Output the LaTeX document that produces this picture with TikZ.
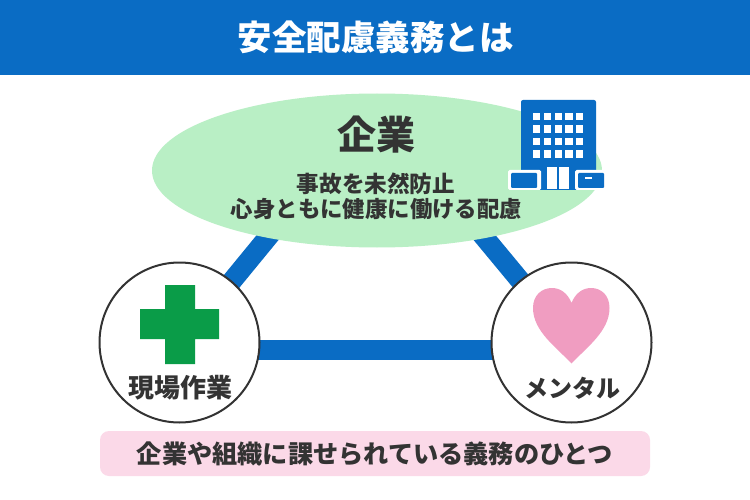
\documentclass[tikz,border=0pt]{standalone}
\usepackage{fontspec}
\setmainfont{Noto Sans CJK JP}
\usetikzlibrary{shapes.geometric}
\definecolor{mainblue}{HTML}{0A6CC4}
\definecolor{softgreen}{HTML}{B9EFC5}
\definecolor{softpink}{HTML}{FBD9E8}
\definecolor{crossgreen}{HTML}{0A9C48}
\definecolor{heartpink}{HTML}{F09DC1}
\definecolor{ink}{HTML}{333333}
\tikzset{
  x=1pt,y=-1pt,
  label text/.style={text=ink,font=\bfseries\fontsize{#1}{#1}\selectfont,inner sep=0pt,align=center},
  link/.style={draw=mainblue,line width=20pt},
  topic/.style={circle,draw=ink,line width=2pt,fill=white,minimum size=160pt,inner sep=0pt},
  iconblue/.style={fill=mainblue,draw=none},
  iconwhite/.style={fill=white,draw=none},
}
\begin{document}
\begin{tikzpicture}
\useasboundingbox (0,0) rectangle (750,500);
\fill[white] (0,0) rectangle (750,500);
\node[fill=mainblue,minimum width=751pt,minimum height=75pt,inner sep=0pt,text=white,font=\bfseries\fontsize{34.5}{34.5}\selectfont] (title) at (375.5,37.5) {安全配慮義務とは};
\coordinate (apex) at (375.5,106);
\coordinate (leftc) at (179.5,342.5);
\coordinate (rightc) at (571.5,342.5);
\coordinate (leftbar) at (179.5,350);
\coordinate (rightbar) at (571.5,350);
\coordinate (leftdiag) at (181.5,342.5);
\draw[link] (leftdiag) -- (apex);
\draw[link] (rightc) -- (apex);
\draw[link] (leftbar) -- (rightbar);
\node[ellipse,fill=softgreen,minimum width=450pt,minimum height=154pt,inner sep=0pt] (company) at (377,170.5) {};
\node[topic] (site) at (leftc) {};
\node[topic] (mental) at (rightc) {};
% building
\fill[iconblue,rounded corners=2pt] (521,100) rectangle (596,190);
\foreach \r in {0,1,2,3}{\foreach \c in {0,1,2,3,4}{
  \fill[iconwhite] (533+\c*10.8,113+\r*12.4) rectangle ++(7.2,7.4);}}
\fill[iconwhite] (547,167) rectangle (569,189);
\fill[iconblue] (557,167) rectangle (559,189);
\fill[iconwhite,rounded corners=1.5pt] (508,170) rectangle (541,190);
\fill[iconblue,rounded corners=1pt] (511,173) rectangle (537,188);
\fill[iconwhite,rounded corners=1.5pt] (575,170) rectangle (607,190);
\fill[iconblue,rounded corners=1pt] (578,173) rectangle (604,188);
\fill[iconwhite] (585,177) rectangle (592,179.5);
% cross
\fill[crossgreen] (165,285) -- (195,285) -- (195,309) -- (219,309) -- (219,339) -- (195,339) -- (195,364) -- (165,364) -- (165,339) -- (140,339) -- (140,309) -- (165,309) -- cycle;
% heart
\fill[heartpink] (571.5,363.5) .. controls (556,347) and (533,331) .. (533,308)
  .. controls (533,295) and (542,288) .. (552,288)
  .. controls (561,288) and (568,294) .. (571.5,303)
  .. controls (575,294) and (582,288) .. (591,288)
  .. controls (601,288) and (609.5,295) .. (609.5,308)
  .. controls (609.5,331) and (587,347) .. (571.5,363.5) -- cycle;
\node[label text=39] (companyname) at (376,135) {企業};
\node[label text=22.6] (duty1) at (376,184) {事故を未然防止};
\node[label text=22.4] (duty2) at (376.5,208.5) {心身ともに健康に働ける配慮};
\node[label text=26] (sitelabel) at (180.5,388) {現場作業};
\node[label text=24] (mentallabel) at (572,388) {メンタル};
\node[fill=softpink,rounded corners=9pt,minimum width=550pt,minimum height=45pt,inner sep=0pt,label text=25.2] (note) at (375,453.5) {企業や組織に課せられている義務のひとつ};
\end{tikzpicture}
\end{document}
